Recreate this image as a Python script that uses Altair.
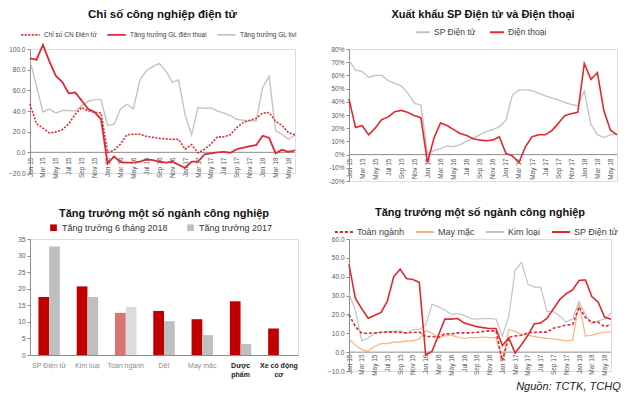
import altair as alt
import pandas as pd

FONT = "Liberation Sans"

mon = ["Jan", "Feb", "Mar", "Apr", "May", "Jun", "Jul", "Aug", "Sep", "Oct", "Nov", "Dec"]
months = [f"{m} {y}" for y in ("15", "16", "17", "18") for m in mon][:42]
tick_months = months[::2]

# ---- Panel 1: Chỉ số công nghiệp điện tử
p1_names = ["Chỉ số CN Điện tử", "Tăng trưởng GL điện thoại", "Tăng trưởng GL tivi"]
p1_index = [46.7, 27.6, 23.5, 18.7, 19.7, 22, 27.6, 37, 43.5, 40, 38.7, 38,
            0, 2, 8, 17, 17.5, 17.5, 15.5, 14.5, 13.5, 13, 12.5, 12.5,
            3, 7.5, -0.5, 3, 8, 15, 15, 17, 24, 29, 31, 33,
            38, 38.5, 30, 26, 19, 17]
p1_phone = [91, 89.5, 104, 88, 74, 68, 57, 58, 50, 42, 39, 32,
            -11, -4, -9.5, -10, -10, -9, -7, -7.5, -9, -10, -9, -12,
            -15, -9, -9, -2, -1, 0, 0.5, -0.5, 3, 4.5, 6, 7,
            16, 14, -1, 2.5, 0.5, 2]
p1_tv = [89, 64, 39, 42, 38, 40.5, 40.5, 40, 45, 49.5, 51, 51,
         26, 27, 42, 46.5, 42, 70, 79, 83, 86, 79, 68, 70,
         36, 17, 43.5, 42.5, 43, 40, 38, 35.5, 32, 31, 30.5, 30.5,
         63, 73.5, 21, 17.5, 12.5, 17]

# ---- Panel 2: Xuất khẩu SP Điện tử và Điện thoại (%)
p2_names = ["SP Điện tử", "Điện thoại"]
p2_elec = [71.3, 64, 63, 58.5, 60, 60, 56, 54, 52, 46.5, 39, 37.5,
           1, 3, 4.5, 6.5, 6, 7.5, 10, 12.5, 15, 17.5, 19, 21,
           26, 45, 49, 49, 48.5, 46.5, 44.5, 43, 41.5, 39.5, 38, 37,
           48, 23, 15, 13, 15, 15.5]
p2_phone = [42, 20.5, 22, 15, 20, 26.5, 28.5, 32.5, 33.5, 32, 29.5, 28,
            -6, 12.5, 24, 22, 19, 16, 14.5, 12, 11, 10.5, 11, 13.5,
            1, -1, -6, 6, 13.5, 15, 15, 18, 23.5, 29.5, 31, 32,
            69, 57, 62, 33, 18.5, 15]

# ---- Panel 3: bars
cats = ["SP Điện tử", "Kim loại", "Toàn ngành", "Dệt", "May mặc", "Dược phẩm", "Xe có động cơ"]
bar_names = ["Tăng trưởng 6 tháng 2018", "Tăng trưởng 2017"]
v2018 = [17.5, 20.7, 12.7, 13.3, 10.8, 16.2, 8.0]
v2017 = [32.7, 17.5, 14.5, 10.2, 6.0, 3.3, None]

# ---- Panel 4: Tăng trưởng một số ngành công nghiệp
p4_names = ["Toàn ngành", "May mặc", "Kim loại", "SP Điện tử"]
p4_total = [19.9, 13.5, 10, 10, 10.2, 10.5, 10.6, 10.6, 10.5, 10.2, 10.5, 10.6,
            8.3, 8.3, 7.8, 9.7, 9.7, 10.2, 10.2, 10.2, 10.5, 11, 11.3, 11.3,
            -4.5, 7.8, 8.6, 9, 10.2, 10.5, 10.6, 10.6, 12.7, 13.5, 14.4, 14.6,
            24, 18.3, 15.9, 15.9, 13.5, 14.6]
p4_garment = [7, 3.7, 1.3, 0.5, 3, 4.5, 4.5, 5.3, 5.3, 6, 6, 7,
              11.5, 10, 7.7, 8.6, 9, 8, 7.3, 7.7, 7.7, 8, 7.7, 7.7,
              -5, 12, 11, 9.4, 9, 8.3, 7.7, 7.3, 7, 6.5, 6, 6.3,
              26, 8.5, 9, 10, 10.6, 10.6]
p4_metal = [31.3, 22, 6, 7.5, 10, 10.5, 11, 11, 11.3, 10, 12, 12,
            14.3, 25.5, 24, 22.3, 20, 20.5, 19.5, 17.8, 17.5, 17.8, 17.8, 17.5,
            8.5, 19, 43.5, 47.5, 36, 34.5, 34.5, 21.5, 21.5, 19, 16, 17.8,
            27, 20, 15, 16.7, 17.5, 20.7]
p4_elec = [46.5, 28.5, 23, 18, 19.5, 21, 27, 40, 44, 39, 38.5, 37,
           -1.5, 0.5, 9, 17.5, 17.5, 17.8, 15.5, 14.5, 13.5, 13, 12.5, 12.5,
           3.5, 7.5, -0.5, 4, 9, 15, 15.5, 18, 23, 28, 31, 33,
           38, 38.3, 29.5, 26.5, 18.5, 17.5]

RED = "#e2282e"
GRAY = "#c4c4c4"
ORANGE = "#f7b27f"
AXC = "#8c8c8c"
LBL = "#595959"


def long_df(names, lists):
    rows = []
    for n, vals in zip(names, lists):
        for m, v in zip(months, vals):
            rows.append({"month": m, "series": n, "value": v})
    return pd.DataFrame(rows)


def line_panel(names, lists, colors, dashes, widths, draw_order, title, title_size, ydom, yvals,
               ylabel_expr, w, h, xoff, leg):
    df = long_df(names, lists)
    base = alt.Chart(df)
    x = alt.X("month:O", scale=alt.Scale(domain=months, type="point", padding=0),
              axis=alt.Axis(values=tick_months, labelAngle=270, title=None, domain=False,
                            ticks=False, labelFontSize=6.5, labelColor=LBL,
                            labelPadding=2, offset=xoff, labelFont=FONT, labelOverlap=False))
    yscale = alt.Scale(domain=ydom, nice=False, zero=False)
    yaxis = alt.Axis(values=yvals, labelExpr=ylabel_expr, grid=False, title=None,
                     domainColor=AXC, tickColor=AXC, tickSize=3, labelFontSize=6.5,
                     labelColor=LBL, labelFont=FONT, labelPadding=2, labelOverlap=False)
    y = alt.Y("value:Q", scale=yscale, axis=yaxis)
    legend = alt.Legend(orient="none", legendX=leg["x"], legendY=leg["y"],
                        direction="horizontal", columns=len(names), title=None,
                        symbolType="stroke", symbolSize=leg["sym"], symbolStrokeWidth=1.8,
                        labelFontSize=leg["font"], labelColor="#404040", labelFont=FONT,
                        columnPadding=leg["pad"], labelOffset=3, padding=0, labelLimit=200)
    color = alt.Color("series:N", scale=alt.Scale(domain=names, range=colors), legend=legend)
    dash = alt.StrokeDash("series:N", scale=alt.Scale(domain=names, range=dashes), legend=legend)
    layers = []
    for n in draw_order:
        i = names.index(n)
        layers.append(
            base.transform_filter(alt.datum.series == n)
            .mark_line(strokeWidth=widths[i], interpolate="linear")
            .encode(x=x, y=y, color=color, strokeDash=dash)
        )
    zero = alt.Chart(pd.DataFrame({"value": [0]})).mark_rule(color=AXC, strokeWidth=1).encode(
        y=alt.Y("value:Q", scale=yscale, axis=yaxis))
    layers.insert(0, zero)
    return alt.layer(*layers).properties(
        width=w, height=h,
        title=alt.TitleParams(title, font=FONT, fontSize=title_size, fontWeight="bold",
                              color="#111111", offset=4, anchor="middle"),
    )


p1 = line_panel(p1_names, [p1_index, p1_phone, p1_tv], [RED, RED, GRAY],
                [[2, 1.5], [1, 0], [1, 0]], [1.6, 1.8, 1.4],
                ["Tăng trưởng GL tivi", "Chỉ số CN Điện tử", "Tăng trưởng GL điện thoại"],
                "Chỉ số công nghiệp điện tử", 11.5, [-20, 100], [-20, 0, 20, 40, 60, 80, 100],
                "format(datum.value, '.1f')", 265, 124, -18,
                {"x": -10, "y": -25, "sym": 340, "font": 6.5, "pad": 6})

p2 = line_panel(p2_names, [p2_elec, p2_phone], [GRAY, RED], [[1, 0], [1, 0]], [1.4, 1.6],
                ["SP Điện tử", "Điện thoại"],
                "Xuất khẩu SP Điện tử và Điện thoại", 11, [-20, 80],
                [-20, -10, 0, 10, 20, 30, 40, 50, 60, 70, 80],
                "datum.value + '%'", 268, 132, -25,
                {"x": 66, "y": -25, "sym": 200, "font": 8.5, "pad": 10})

p4 = line_panel(p4_names, [p4_total, p4_garment, p4_metal, p4_elec],
                [RED, ORANGE, GRAY, RED], [[3, 2], [1, 0], [1, 0], [1, 0]],
                [1.6, 1.2, 1.2, 1.6],
                ["May mặc", "Kim loại", "SP Điện tử", "Toàn ngành"],
                "Tăng trưởng một số ngành công nghiệp", 11, [-10, 60],
                [-10, 0, 10, 20, 30, 40, 50, 60],
                "format(datum.value, '.1f')", 262, 132, -19,
                {"x": -15, "y": -17, "sym": 330, "font": 9, "pad": 7})

# bar panel
bar_rows = []
for c, a, b in zip(cats, v2018, v2017):
    bar_rows.append({"cat": c, "series": bar_names[0], "value": a})
    if b is not None:
        bar_rows.append({"cat": c, "series": bar_names[1], "value": b})
bdf = pd.DataFrame(bar_rows)

bold_test = "datum.value == 'Dược phẩm' || datum.value == 'Xe có động cơ'"
p3 = alt.Chart(bdf).mark_bar().encode(
    x=alt.X("cat:N", sort=cats,
            scale=alt.Scale(paddingInner=0.44, paddingOuter=0.22),
            axis=alt.Axis(title=None, labelAngle=0, domainColor=AXC, ticks=False,
                          labelFontSize=7, labelFont=FONT, labelPadding=6,
                          labelExpr="datum.value == 'Dược phẩm' ? ['Dược', 'phẩm'] : datum.value == 'Xe có động cơ' ? ['Xe có động', 'cơ'] : datum.value",
                          labelColor=alt.condition(bold_test, alt.value("#222222"), alt.value("#8c8c8c")),
                          labelFontWeight=alt.condition(bold_test, alt.value("bold"), alt.value("normal")))),
    xOffset=alt.XOffset("series:N", sort=bar_names, scale=alt.Scale(domain=bar_names)),
    y=alt.Y("value:Q", scale=alt.Scale(domain=[0, 35], nice=False),
            axis=alt.Axis(values=[0, 5, 10, 15, 20, 25, 30, 35], grid=False, title=None,
                          domainColor=AXC, tickColor=AXC, tickSize=3, labelFontSize=6.5,
                          labelColor=LBL, labelFont=FONT, labelPadding=2, labelOverlap=False)),
    color=alt.Color("series:N", scale=alt.Scale(domain=bar_names, range=["#c00000", "#bfbfbf"]),
                    legend=alt.Legend(orient="none", legendX=19, legendY=-16,
                                      direction="horizontal", columns=2, title=None,
                                      symbolType="square", symbolSize=45, labelFontSize=9,
                                      labelFont=FONT, labelColor="#333333", columnPadding=18,
                                      labelOffset=4, padding=0, labelLimit=200)),
    opacity=alt.condition(alt.datum.cat == "Toàn ngành", alt.value(0.55), alt.value(1)),
).properties(
    width=268, height=116,
    title=alt.TitleParams("Tăng trưởng một số ngành công nghiệp", font=FONT, fontSize=11,
                          fontWeight="bold", color="#111111", offset=4, anchor="middle"),
)

chart = alt.concat(p1, p2, p3, p4, columns=2, bounds="flush",
                   spacing={"row": 58, "column": 51}).resolve_scale(
    color="independent", strokeDash="independent", x="independent", y="independent",
    xOffset="independent", opacity="independent"
).resolve_legend(color="independent", strokeDash="independent").properties(
    padding={"left": 0, "top": 0, "right": 0, "bottom": 0},
    title=alt.TitleParams("Nguồn: TCTK, TCHQ", orient="bottom", anchor="end", font=FONT,
                          fontSize=11, fontStyle="italic", fontWeight="normal",
                          color="#222222", offset=3),
).configure_view(stroke=None).configure(background="white")

chart.save("out.html", embed_options={"renderer": "svg", "actions": False})
